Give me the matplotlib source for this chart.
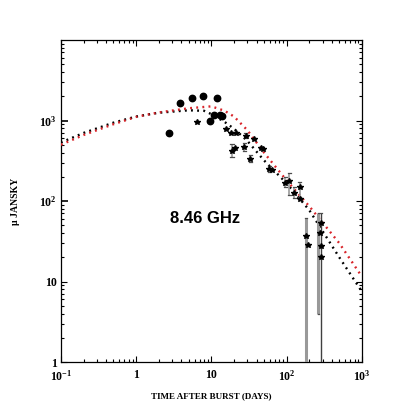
import matplotlib
matplotlib.use("Agg")
import matplotlib.pyplot as plt
import numpy as np

# ---- data ----
circ_t = [2.75, 3.85, 5.6, 7.7, 11.7, 9.7, 10.7, 12.9, 13.8]
circ_f = [700, 1630, 1900, 1990, 1930, 1000, 1180, 1160, 1145]

star_t = [6.5, 15.5, 18.4, 21.4, 28.5, 18.8, 20.8, 27.4, 33, 36.5, 45.7, 48,
          59, 64, 96, 109, 127, 150, 149, 183, 190, 282, 276, 282, 288]
star_f = [970, 790, 690, 690, 650, 423, 460, 474, 333, 590, 460, 440,
          252, 240, 168, 178, 125, 151, 106, 37, 28.7, 52.7, 39.6, 27.5, 20]

# error bars (absolute lower / upper limits) for selected stars
err_t  = [28.5, 18.8, 27.4, 33, 59, 96, 109, 127, 150]
err_lo = [600, 357, 423, 303, 230, 151, 119, 108, 113]
err_hi = [700, 508, 532, 374, 275, 201, 225, 151, 174]
# long error bars reaching below the plot
long_t  = [183, 265, 288]
long_lo = [0.5, 4.0, 0.5]
long_hi = [61, 70.5, 70.5]

model_t = [0.1, 0.2, 0.5, 1, 2, 5, 10, 15, 20, 30, 50, 100, 200, 500, 1000]
red_f   = [500, 660, 900, 1110, 1260, 1420, 1500, 1320, 1120, 760, 400, 180, 86, 30, 11.5]
black_t = [0.1, 0.2, 0.5, 1, 2, 5, 8, 10, 15, 20, 30, 50, 100, 200, 500, 1000]
black_f = [532, 700, 940, 1120, 1250, 1340, 1320, 1200, 960, 790, 560, 320, 166, 77, 20, 7.5]

xticks = [0.1, 1, 10, 100, 1000]
xtick_labels = [r"$10^{-1}$", "1", "10", r"$10^{2}$", r"$10^{3}$"]
yticks = [1, 10, 100, 1000]
ytick_labels = ["1", "10", r"$10^{2}$", r"$10^{3}$"]

# ---- style ----
plt.rcParams['mathtext.fontset'] = 'custom'
plt.rcParams['mathtext.rm'] = 'Liberation Serif:bold'
plt.rcParams['mathtext.it'] = 'Liberation Serif:bold'
plt.rcParams['mathtext.bf'] = 'Liberation Serif:bold'

fig = plt.figure(figsize=(4.03, 4.03), dpi=100)
ax = fig.add_axes([0.151, 0.1017, 0.747, 0.799])
ax.set_xscale('log')
ax.set_yscale('log')
ax.set_xlim(0.1, 1000)
ax.set_ylim(1, 10000)

ax.plot(black_t, black_f, color='black', linestyle=(0, (0.8, 1.8)), linewidth=1.7,
        dash_capstyle='butt', zorder=2)
ax.plot(model_t, red_f, color='#d8242a', linestyle=(0, (0.8, 1.8)), linewidth=1.7,
        dash_capstyle='butt', zorder=3)

# error bars
for t, lo, hi in zip(err_t, err_lo, err_hi):
    ax.vlines(t, lo, hi, color='0.6', linewidth=1.2, zorder=4)
    ax.plot([t / 1.05, t * 1.05], [lo, lo], color='0.3', linewidth=0.9, zorder=4)
    ax.plot([t / 1.05, t * 1.05], [hi, hi], color='0.3', linewidth=0.9, zorder=4)
long_colors = ['0.6', '0.6', '0.25']
long_widths = [2.2, 2.2, 1.0]
for t, lo, hi, c, w in zip(long_t, long_lo, long_hi, long_colors, long_widths):
    ax.vlines(t, lo, hi, color=c, linewidth=w, zorder=4)
    ax.plot([t / 1.03, t * 1.03], [hi, hi], color='0.3', linewidth=0.9, zorder=4)
    if lo > 1:
        ax.plot([t / 1.03, t * 1.03], [lo, lo], color='0.3', linewidth=0.9, zorder=4)

ax.plot(star_t, star_f, linestyle='none', marker='*', color='black',
        markersize=4.2, zorder=5)
ax.plot(circ_t, circ_f, linestyle='none', marker='o', color='black',
        markersize=4.6, zorder=5)

ax.text(8.3, 61, "8.46 GHz", fontsize=12, fontweight='bold',
        family='Liberation Sans', ha='center', va='center')

# ticks
ax.set_xticks(xticks)
ax.set_xticklabels(xtick_labels)
ax.set_yticks(yticks)
ax.set_yticklabels(ytick_labels)
ax.tick_params(which='both', direction='in', top=True, right=True, width=0.8)
ax.tick_params(which='major', length=4)
ax.tick_params(which='minor', length=2.5)
ax.tick_params(axis='x', which='major', pad=5)
ax.tick_params(axis='y', which='major', pad=3)
for lab in ax.get_xticklabels() + ax.get_yticklabels():
    lab.set_family('Liberation Serif')
    lab.set_fontweight('bold')
    lab.set_fontsize(8.5)
# red ticks on the left axis at 10^2 and 10^3
for tk in ax.yaxis.get_major_ticks():
    if tk.get_loc() in (100, 1000):
        tk.tick1line.set_color('#e06060')
        tk.tick1line.set_markersize(5)
        tk.tick1line.set_markeredgewidth(1.2)

for sp in ax.spines.values():
    sp.set_linewidth(0.9)

ax.set_xlabel("TIME AFTER BURST (DAYS)", family='Liberation Serif',
              fontweight='bold', fontsize=6.5, labelpad=6)
ax.set_ylabel("\u03bc JANSKY", family='Liberation Serif',
              fontweight='bold', fontsize=7, labelpad=14)

fig.savefig("out.png", dpi=100)
